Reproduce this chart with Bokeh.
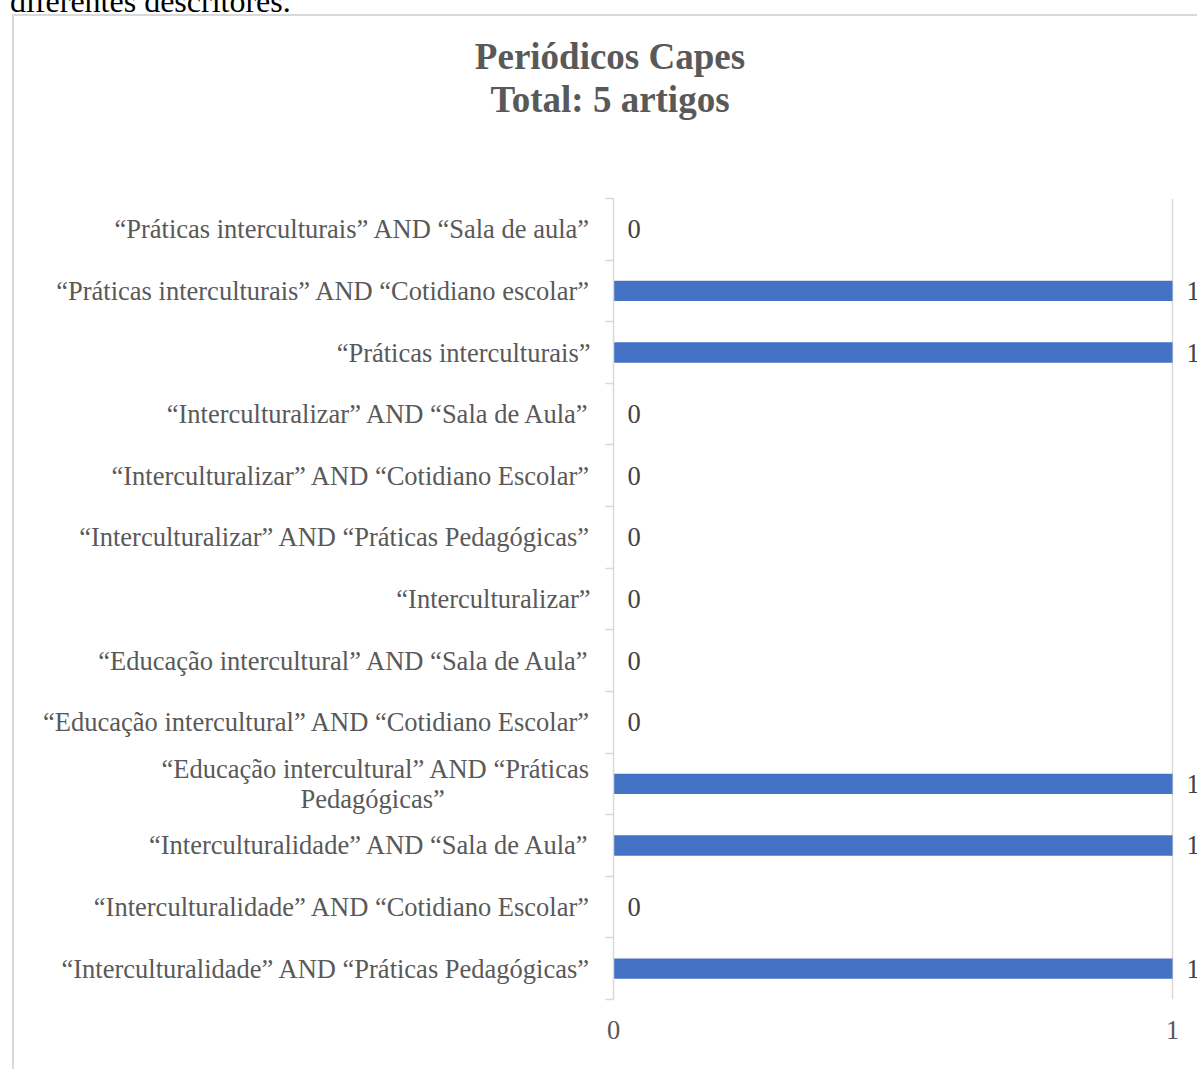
from bokeh.plotting import figure
from bokeh.layouts import column
from bokeh.models import Range1d, FixedTicker, LabelSet, ColumnDataSource, Div
from bokeh.embed import file_html
from bokeh.resources import INLINE
from bokeh.core.properties import value

categories = [
    "“Práticas interculturais” AND “Sala de aula”",
    "“Práticas interculturais” AND “Cotidiano escolar”",
    "“Práticas interculturais”",
    "“Interculturalizar” AND “Sala de Aula”",
    "“Interculturalizar” AND “Cotidiano Escolar”",
    "“Interculturalizar” AND “Práticas Pedagógicas”",
    "“Interculturalizar”",
    "“Educação intercultural” AND “Sala de Aula”",
    "“Educação intercultural” AND “Cotidiano Escolar”",
    "“Educação intercultural” AND “Práticas\nPedagógicas”",
    "“Interculturalidade” AND “Sala de Aula”",
    "“Interculturalidade” AND “Cotidiano Escolar”",
    "“Interculturalidade” AND “Práticas Pedagógicas”",
]
counts = [0, 1, 1, 0, 0, 0, 0, 0, 0, 1, 1, 0, 1]
x_ticks = [0, 1]
title_line1 = "Periódicos Capes"
title_line2 = "Total: 5 artigos"
fragment_text = "diferentes descritores."

FONT = "Liberation Serif"
GRAY = "#d9d9d9"
n = len(categories)
ypos = [n - 1 - i for i in range(n)]

src = ColumnDataSource(dict(y=ypos, count=counts, label=[str(c) for c in counts]))


def centered_label(text):
    # tick labels of a left axis are right-aligned; pad the wrapped second
    # line with no-break spaces so it sits centred under the first one
    lines = text.split("\n")
    if len(lines) == 1:
        return text
    return lines[0] + "\n" + lines[1] + "\u00a0" * 22


# page geometry
BORDER = 2
BOX_LEFT = 12
BOX_TOP = 14
TITLE_H = 140
FIG_W = 1197 - BOX_LEFT - BORDER
FIG_TOP = BOX_TOP + BORDER + TITLE_H
FIG_H = 1069 - FIG_TOP

p = figure(width=FIG_W, height=FIG_H, output_backend="svg", toolbar_location=None,
           x_range=Range1d(0, 1.0447), y_range=Range1d(-0.5, n - 0.5),
           min_border_left=613 - BOX_LEFT - BORDER, min_border_right=0,
           min_border_top=198 - FIG_TOP, min_border_bottom=70, margin=0)
p.outline_line_color = None
p.background_fill_color = "white"
p.border_fill_color = "white"

p.hbar(y="y", left=0, right="count", height=0.33, source=src,
       fill_color="#4472C4", line_color=None)

labels = LabelSet(x="count", y="y", text="label", source=src, x_offset=14,
                  text_baseline="middle", text_align="left",
                  text_font=value(FONT), text_font_size=value("26.5px"),
                  text_color="#404040")
p.add_layout(labels)

# y axis
yax = p.yaxis[0]
yax.ticker = FixedTicker(ticks=ypos, minor_ticks=[k - 0.5 for k in range(n + 1)])
yax.major_label_overrides = {y: centered_label(c) for y, c in zip(ypos, categories)}
yax.major_tick_line_color = None
yax.major_tick_out = 0
yax.major_tick_in = 0
yax.minor_tick_line_color = GRAY
yax.minor_tick_line_width = 1.5
yax.minor_tick_out = 8
yax.minor_tick_in = 0
yax.axis_line_color = GRAY
yax.axis_line_width = 1.5
yax.major_label_text_font = FONT
yax.major_label_text_font_size = "26.5px"
yax.major_label_text_color = "#595959"
yax.major_label_text_line_height = 1.0
yax.major_label_standoff = 15

# x axis
xax = p.xaxis[0]
xax.ticker = FixedTicker(ticks=x_ticks)
xax.axis_line_color = None
xax.major_tick_line_color = None
xax.minor_tick_line_color = None
xax.major_tick_out = 0
xax.major_label_text_font = FONT
xax.major_label_text_font_size = "26.5px"
xax.major_label_text_color = "#595959"
xax.major_label_standoff = 21

p.xgrid.grid_line_color = GRAY
p.xgrid.grid_line_width = 1.5
p.ygrid.visible = False

# fragment of the preceding document line (cut at the top)
frag = Div(
    text=(f'<div style="font-family:{FONT};font-size:32px;line-height:32px;'
          f'color:#000;margin-top:-20px;margin-left:10px;white-space:nowrap">'
          f'{fragment_text}</div>'),
    width=1197, height=BOX_TOP, margin=0,
    styles={"overflow": "hidden"})

title = Div(
    text=(f'<div style="font-family:{FONT};font-size:37px;line-height:43px;'
          f'font-weight:bold;color:#595959;text-align:center;box-sizing:border-box;'
          f'width:{FIG_W}px;padding-top:19px;padding-left:9px">'
          f'{title_line1}<br>{title_line2}</div>'),
    width=FIG_W, height=TITLE_H, margin=0)

chart = column(title, p, spacing=0, margin=(0, 0, 0, BOX_LEFT),
               styles={"border-left": f"{BORDER}px solid {GRAY}",
                       "border-top": f"{BORDER}px solid {GRAY}",
                       "background": "white"})

root = column(frag, chart, spacing=0, margin=0)

open("out.html", "w").write(file_html(root, INLINE))
